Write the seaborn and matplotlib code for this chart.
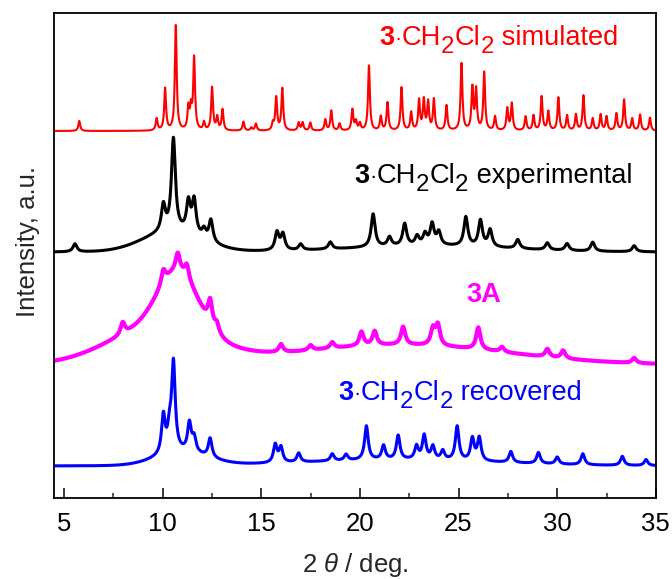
import numpy as np
import pandas as pd
import matplotlib
matplotlib.use("Agg")
import matplotlib.pyplot as plt
import matplotlib.transforms as mtransforms
import seaborn as sns

# ---------------- data ----------------
# Each pattern: vertical offset, sharp reflections (2θ, height, half-width),
# and broad amorphous humps (centre, height, sigma).
sim_offset = 367
sim_pos = [5.78, 9.70, 10.13, 10.67, 11.31, 11.44, 11.60, 12.10, 12.51, 12.77, 13.04,
           14.10, 14.50, 14.73, 15.59, 15.76, 16.07, 16.90, 17.10, 17.49, 18.25, 18.55,
           18.97, 19.62, 19.80, 20.00, 20.46, 21.06, 21.40, 22.11, 22.60, 23.00, 23.24,
           23.46, 23.75, 24.39, 25.15, 25.70, 25.89, 26.30, 26.85, 27.47, 27.70, 28.40,
           28.80, 29.21, 29.55, 30.06, 30.50, 30.95, 31.33, 31.80, 32.20, 32.50, 33.00,
           33.39, 33.80, 34.20, 34.70]
sim_int = [10, 12, 42, 105, 22, 20, 72, 8, 43, 13, 21,
           9, 3, 7, 7, 33, 42, 8, 8, 8, 11, 20,
           7, 21, 9, 7, 65, 14, 28, 43, 18, 30, 30,
           28, 31, 25, 67, 42, 40, 58, 14, 22, 27, 14,
           15, 34, 19, 33, 15, 16, 35, 12, 16, 14, 17,
           31, 12, 16, 13]
sim_hw = 0.055

exp_offset = 246
exp_pos = [5.56, 10.04, 10.55, 11.31, 11.60, 12.10, 12.45, 15.80, 16.10, 17.00, 18.50,
           20.67, 21.50, 22.27, 22.90, 23.30, 23.66, 24.00, 25.37, 26.11, 26.60, 28.00,
           29.50, 30.50, 31.80, 33.90]
exp_int = [8, 26, 92, 30, 34, 9, 22, 18, 16, 6, 7,
           33, 9, 22, 9, 11, 21, 13, 29, 26, 17, 9,
           7, 7, 9, 6]
exp_hw = 0.12
exp_hump_pos = [10.5, 23.5]
exp_hump_int = [20, 6]
exp_hump_sig = [1.5, 4.0]

a_offset = 133
a_pos = [7.98, 10.04, 10.77, 11.23, 12.41, 12.75, 16.00, 17.50, 18.60, 20.08, 20.75,
         22.19, 23.70, 23.95, 26.00, 27.20, 29.50, 30.30, 33.90]
a_int = [12, 14, 18, 14, 24, 9, 8, 5, 6, 14, 14,
         18, 16, 20, 22, 5, 8, 8, 5]
a_hw = 0.13
a_hump_pos = [10.8, 9.8, 22.0]
a_hump_int = [55, 38, 20]
a_hump_sig = [1.0, 2.5, 5.5]

rec_offset = 32
rec_pos = [10.04, 10.35, 10.55, 11.36, 11.60, 12.41, 15.71, 16.00, 16.90, 18.60, 19.30,
           20.33, 21.20, 21.94, 22.87, 23.26, 23.70, 24.20, 24.93, 25.70, 26.05, 27.65,
           29.05, 30.00, 31.30, 33.30, 34.50]
rec_int = [38, 20, 88, 28, 14, 19, 18, 15, 9, 7, 6,
           34, 14, 24, 13, 24, 13, 9, 34, 22, 23, 11,
           11, 7, 11, 9, 6]
rec_hw = 0.11
rec_hump_pos = [11.0, 22.0]
rec_hump_int = [13, 6]
rec_hump_sig = [1.3, 5.0]

labels = ["3·CH2Cl2 simulated", "3·CH2Cl2 experimental", "3A", "3·CH2Cl2 recovered"]
label_suffix = [" simulated", " experimental", "", " recovered"]
colors = ["#ff0000", "#000000", "#ff00ff", "#0000ff"]
x_ticks = [5, 10, 15, 20, 25, 30, 35]

# ---------------- build profiles ----------------
tt = np.linspace(4.5, 35.0, 3051)


def profile(offset, pos, inten, hw, hpos=(), hint=(), hsig=()):
    y = np.full_like(tt, float(offset))
    for p, h in zip(pos, inten):
        y += h / (1.0 + ((tt - p) / hw) ** 2)
    for p, h, s in zip(hpos, hint, hsig):
        y += h * np.exp(-0.5 * ((tt - p) / s) ** 2)
    return y


curves = [
    profile(sim_offset, sim_pos, sim_int, sim_hw),
    profile(exp_offset, exp_pos, exp_int, exp_hw, exp_hump_pos, exp_hump_int, exp_hump_sig),
    profile(a_offset, a_pos, a_int, a_hw, a_hump_pos, a_hump_int, a_hump_sig),
    profile(rec_offset, rec_pos, rec_int, rec_hw, rec_hump_pos, rec_hump_int, rec_hump_sig),
]
df = pd.concat([pd.DataFrame({"tt": tt, "I": c, "s": lab}) for c, lab in zip(curves, labels)])

# ---------------- plot ----------------
sns.set_theme(style="ticks")
plt.rcParams["font.family"] = ["Liberation Sans", "DejaVu Sans"]
plt.rcParams["mathtext.fontset"] = "custom"
plt.rcParams["mathtext.rm"] = "Liberation Sans"
plt.rcParams["mathtext.it"] = "Liberation Sans:italic"
plt.rcParams["mathtext.bf"] = "Liberation Sans:bold"

fig = plt.figure(figsize=(6.72, 5.79), dpi=100)
ax = fig.add_axes([0.0804, 0.140, 0.8956, 0.8375])

lws = [1.5, 2.2, 3.0, 2.2]
for lab, col, lw in zip(labels, colors, lws):
    sns.lineplot(data=df[df["s"] == lab], x="tt", y="I", color=col, linewidth=lw,
                 ax=ax, legend=False, estimator=None, sort=False)

fs = 18.5
ax.set_xlim(4.5, 35)
ax.set_ylim(0, 485)
ax.set_xticks(x_ticks)
ax.set_xticks([7.5, 12.5, 17.5, 22.5, 27.5, 32.5], minor=True)
ax.set_yticks([])
ax.tick_params(axis="x", which="major", direction="in", length=7, width=1.1,
               labelsize=fs, pad=10, colors="black")
ax.tick_params(axis="x", which="minor", direction="in", length=3.6, width=1.1)
for sp in ax.spines.values():
    sp.set_linewidth(1.3)
    sp.set_color("black")
    sp.set_visible(True)

ax.set_xlabel(r"2 $\theta$ / deg.", fontsize=fs, labelpad=11)
ax.set_ylabel("Intensity, a.u.", fontsize=fs)
ax.yaxis.set_label_coords(-0.024, 0.528)

# ---------------- labels with full-size lowered subscripts ----------------
renderer = fig.canvas.get_renderer()
lfs = 19.6


def rich_label(x, y, pieces, color):
    """pieces: (text, weight, size_scale, dy_px). Left aligned at data (x, y) baseline."""
    dx = 0.0
    for txt, weight, sc, dy in pieces:
        tr = mtransforms.offset_copy(ax.transData, fig=fig, x=dx, y=dy, units="dots")
        t = ax.text(x, y, txt, color=color, fontsize=lfs * sc, fontweight=weight,
                    ha="left", va="baseline", transform=tr)
        dx += t.get_window_extent(renderer=renderer).width


def formula(suffix):
    return [("3", "bold", 1.0, 0), ("·", "normal", 0.8, 0), ("CH", "normal", 1.0, 0),
            ("2", "normal", 0.88, -8), ("Cl", "normal", 1.0, 0),
            ("2", "normal", 0.88, -8), (suffix, "normal", 1.0, 0)]


rich_label(20.99, 453, formula(label_suffix[0]), colors[0])
rich_label(19.72, 315, formula(label_suffix[1]), colors[1])
ax.text(26.27, 196, "3A", color=colors[2], fontsize=lfs, fontweight="bold",
        ha="center", va="baseline")
rich_label(18.91, 98, formula(label_suffix[3]), colors[3])

fig.savefig("out.png", dpi=100)
